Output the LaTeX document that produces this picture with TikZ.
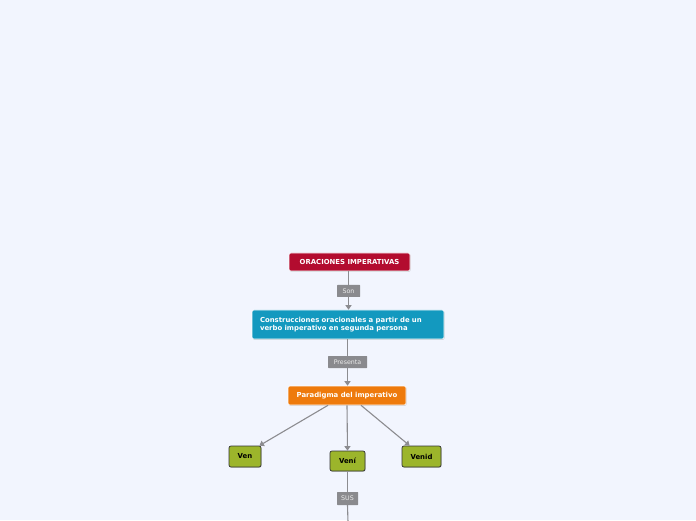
\documentclass[tikz,border=0pt]{standalone}
\usepackage{fontspec}
\setmainfont{DejaVu Sans}
\usetikzlibrary{arrows.meta,shadows}
\definecolor{bgc}{HTML}{F2F5FE}
\definecolor{redc}{HTML}{B30C2F}
\definecolor{tealc}{HTML}{1399BF}
\definecolor{orangec}{HTML}{EE7A0C}
\definecolor{greenc}{HTML}{9CB52B}
\definecolor{linec}{HTML}{8C8C90}
\definecolor{labc}{HTML}{8A8A8E}
\tikzset{
  topic/.style={rounded corners=2pt, draw=white, line width=0.6pt, text=white,
    font=\fontsize{6.9}{8}\selectfont\bfseries, inner sep=0pt,
    drop shadow={shadow xshift=0.6pt, shadow yshift=-0.8pt, opacity=0.35}},
  leaf/.style={rounded corners=2pt, draw=black!80, line width=0.7pt, fill=greenc, text=black,
    font=\fontsize{6.9}{8}\selectfont\bfseries, inner sep=0pt,
    drop shadow={shadow xshift=0.6pt, shadow yshift=-0.8pt, opacity=0.35}},
  lab/.style={fill=labc, text=white!92!black, font=\fontsize{6.3}{7}\selectfont, inner sep=0pt,
    rounded corners=0.5pt},
  conn/.style={draw=linec, line width=1.1pt},
  arr/.style={conn, -{Triangle[width=6pt,length=4.5pt]}},
}
\begin{document}
\begin{tikzpicture}[x=1pt,y=1pt]
\fill[bgc] (0,0) rectangle (696,520);
\useasboundingbox (0,0) rectangle (696,520);
\node[topic, fill=redc, minimum width=121pt, minimum height=18pt] (ora) at (349.5,258) {ORACIONES IMPERATIVAS};
\node[lab, minimum width=23pt, minimum height=12pt] (son) at (348.5,229) {Son};
\node[topic, fill=tealc, minimum width=192pt, minimum height=29pt, text width=176pt, align=left] (con) at (348,195.5) {Construcciones oracionales a partir de un\\verbo imperativo en segunda persona};
\node[lab, minimum width=39pt, minimum height=12pt] (pre) at (347.5,158) {Presenta};
\node[topic, fill=orangec, minimum width=118pt, minimum height=19pt] (par) at (347,124.5) {Paradigma del imperativo};
\node[leaf, minimum width=32pt, minimum height=21pt] (ven) at (245,63.5) {Ven};
\node[leaf, minimum width=35pt, minimum height=20pt] (veni) at (347.5,59) {Vení};
\node[leaf, minimum width=39pt, minimum height=21pt] (venid) at (421.5,63.5) {Venid};
\node[lab, minimum width=21pt, minimum height=13pt] (sus) at (347.5,21.5) {SUS};
\coordinate (bot) at (348,-2);
\draw[conn] (ora.south -| son.north) -- (son.north);
\draw[arr] (son.south) -- (son.south |- con.north);
\draw[conn] (con.south -| pre.north) -- (pre.north);
\draw[arr] (pre.south) -- (pre.south |- par.north);
\draw[arr] ([xshift=-19pt]par.south) -- ([xshift=-2pt]ven.north east);
\draw[arr] (par.south) -- (veni.north);
\draw[arr] ([xshift=14pt]par.south) -- ([xshift=8pt]venid.north west);
\draw[conn] (veni.south) -- (sus.north);
\draw[conn] (sus.south) -- (bot);
\end{tikzpicture}
\end{document}
